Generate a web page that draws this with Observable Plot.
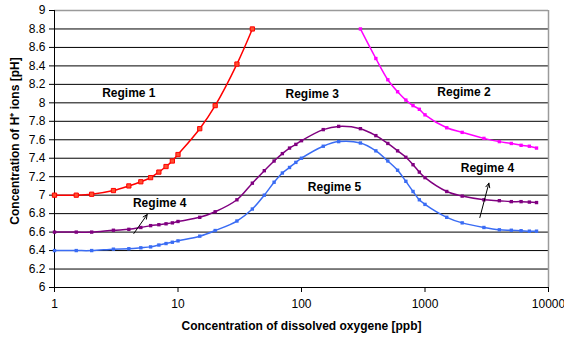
<!DOCTYPE html>
<html>
<head>
<meta charset="utf-8">
<script src="https://cdn.jsdelivr.net/npm/d3@7"></script>
<script src="https://cdn.jsdelivr.net/npm/@observablehq/plot@0.6"></script>
<style>
  html, body { margin: 0; padding: 0; background: #fff; }
  #chart { width: 564px; height: 337px; }
</style>
</head>
<body>
<div id="chart"></div>
<script>
// ---- data ----
const regime1X = [1, 1.5, 2, 3, 4, 5, 6, 7, 8, 9, 10, 15, 20, 30, 40];
const regime1Y = [7.0, 7.0, 7.01, 7.05, 7.10, 7.145, 7.19, 7.25, 7.31, 7.37, 7.44, 7.72, 7.97, 8.42, 8.8];

const regime2X = [300, 400, 500, 600, 700, 800, 900, 1000, 1500, 2000, 3000, 4000, 5000, 6000, 7000, 8000];
const regime2Y = [8.8, 8.48, 8.25, 8.12, 8.03, 7.97, 7.93, 7.87, 7.73, 7.68, 7.615, 7.58, 7.56, 7.54, 7.53, 7.51];

const bumpX = [1, 1.5, 2, 3, 4, 5, 6, 7, 8, 9, 10, 15, 20, 30, 40, 50, 60, 70, 80, 90, 100, 150, 200, 300,
               400, 500, 600, 700, 800, 900, 1000, 1500, 2000, 3000, 4000, 5000, 6000, 7000, 8000];
const regime4Y = [6.6, 6.6, 6.6, 6.62, 6.63, 6.65, 6.67, 6.68, 6.69, 6.70, 6.715, 6.76, 6.82, 6.95, 7.13, 7.265,
                  7.37, 7.45, 7.51, 7.55, 7.59, 7.71, 7.745, 7.72, 7.645, 7.56, 7.48, 7.41, 7.33, 7.25, 7.19,
                  7.04, 6.99, 6.95, 6.94, 6.93, 6.93, 6.925, 6.92];
const regime5Y = [6.4, 6.4, 6.4, 6.415, 6.42, 6.43, 6.44, 6.46, 6.476, 6.49, 6.505, 6.556, 6.617, 6.72, 6.85, 7.0,
                  7.14, 7.24, 7.30, 7.355, 7.40, 7.53, 7.58, 7.565, 7.48, 7.37, 7.27, 7.15, 7.04, 6.95, 6.90,
                  6.76, 6.70, 6.65, 6.625, 6.62, 6.615, 6.61, 6.61];

const xTicks = [1, 10, 100, 1000, 10000];
const yTicks = [6, 6.2, 6.4, 6.6, 6.8, 7, 7.2, 7.4, 7.6, 7.8, 8, 8.2, 8.4, 8.6, 8.8, 9];

const labelTexts = ["Regime 1", "Regime 2", "Regime 3", "Regime 4", "Regime 4", "Regime 5"];
const labelX = [4, 2070, 122, 7.1, 3200, 185];
const labelY = [8.11, 8.12, 8.09, 6.915, 7.295, 7.09];

const arrowX1 = [4.39, 2780];
const arrowY1 = [6.585, 6.758];
const arrowX2 = [5.63, 3290];
const arrowY2 = [6.79, 7.13];

const xTitle = "Concentration of dissolved oxygene [ppb]";
const yTitle = "Concentration of H\u207A ions [pH]";

// ---- tables ----
const zipXY = (xs, ys) => xs.map((x, i) => ({x, y: ys[i]}));
const s1 = zipXY(regime1X, regime1Y);
const s2 = zipXY(regime2X, regime2Y);
const s4 = zipXY(bumpX, regime4Y);
const s5 = zipXY(bumpX, regime5Y);
const labels = labelTexts.map((t, i) => ({t, x: labelX[i], y: labelY[i]}));
const arrows = arrowX1.map((x1, i) => ({x1, y1: arrowY1[i], x2: arrowX2[i], y2: arrowY2[i]}));

const RED = "#ff0000", MAG = "#ff00ff", PUR = "#800080", BLU = "#3a6cf4";

const plot = Plot.plot({
  width: 564,
  height: 337,
  marginLeft: 54,
  marginRight: 16,
  marginTop: 10,
  marginBottom: 50,
  style: {fontFamily: "'Liberation Sans', Arial, sans-serif", fontSize: "12px", background: "#fff", color: "#000"},
  x: {type: "log", domain: [1, 10000], ticks: xTicks, tickFormat: d => String(d), tickSize: 5, tickPadding: 7, label: null},
  y: {domain: [6, 9], ticks: yTicks, tickFormat: d => String(+d.toFixed(1)), tickSize: 5, tickPadding: 4, label: null},
  marks: [
    Plot.ruleY(yTicks.filter(v => v > 6 && v < 9), {stroke: "#000", strokeWidth: 1}),
    Plot.ruleY([9], {stroke: "#9a9a9a", strokeWidth: 1.5}),
    Plot.ruleX([10000], {stroke: "#9a9a9a", strokeWidth: 1.5}),
    Plot.ruleY([6], {stroke: "#000"}),
    Plot.ruleX([1], {stroke: "#000"}),

    Plot.line(s1, {x: "x", y: "y", stroke: RED, strokeWidth: 1.5, curve: "catmull-rom"}),
    Plot.dot(s1, {x: "x", y: "y", symbol: "square", r: 2.4, fill: "#ff5030", stroke: RED, strokeWidth: 1}),

    Plot.line(s2, {x: "x", y: "y", stroke: MAG, strokeWidth: 1.5, curve: "catmull-rom"}),
    Plot.dot(s2, {x: "x", y: "y", symbol: "square", r: 1.9, fill: MAG}),

    Plot.line(s4, {x: "x", y: "y", stroke: PUR, strokeWidth: 1.5, curve: "catmull-rom"}),
    Plot.dot(s4, {x: "x", y: "y", symbol: "square", r: 1.9, fill: PUR}),

    Plot.line(s5, {x: "x", y: "y", stroke: BLU, strokeWidth: 1.5, curve: "catmull-rom"}),
    Plot.dot(s5, {x: "x", y: "y", symbol: "square", r: 1.9, fill: BLU}),

    Plot.arrow(arrows, {x1: "x1", y1: "y1", x2: "x2", y2: "y2", stroke: "#000", strokeWidth: 1, headLength: 7, headAngle: 50}),

    Plot.text(labels, {x: "x", y: "y", text: "t", fontWeight: "bold", fontSize: 12, fill: "#000", lineAnchor: "middle"}),

    Plot.text([xTitle], {frameAnchor: "bottom", dy: 39, fontWeight: "bold", fontSize: 12, fill: "#000", lineAnchor: "middle", textAnchor: "middle"}),
    Plot.text([yTitle], {frameAnchor: "left", dx: -39, dy: -8, rotate: -90, fontWeight: "bold", fontSize: 12, fill: "#000", lineAnchor: "middle", textAnchor: "middle"})
  ]
});
document.getElementById("chart").appendChild(plot);
</script>
</body>
</html>
